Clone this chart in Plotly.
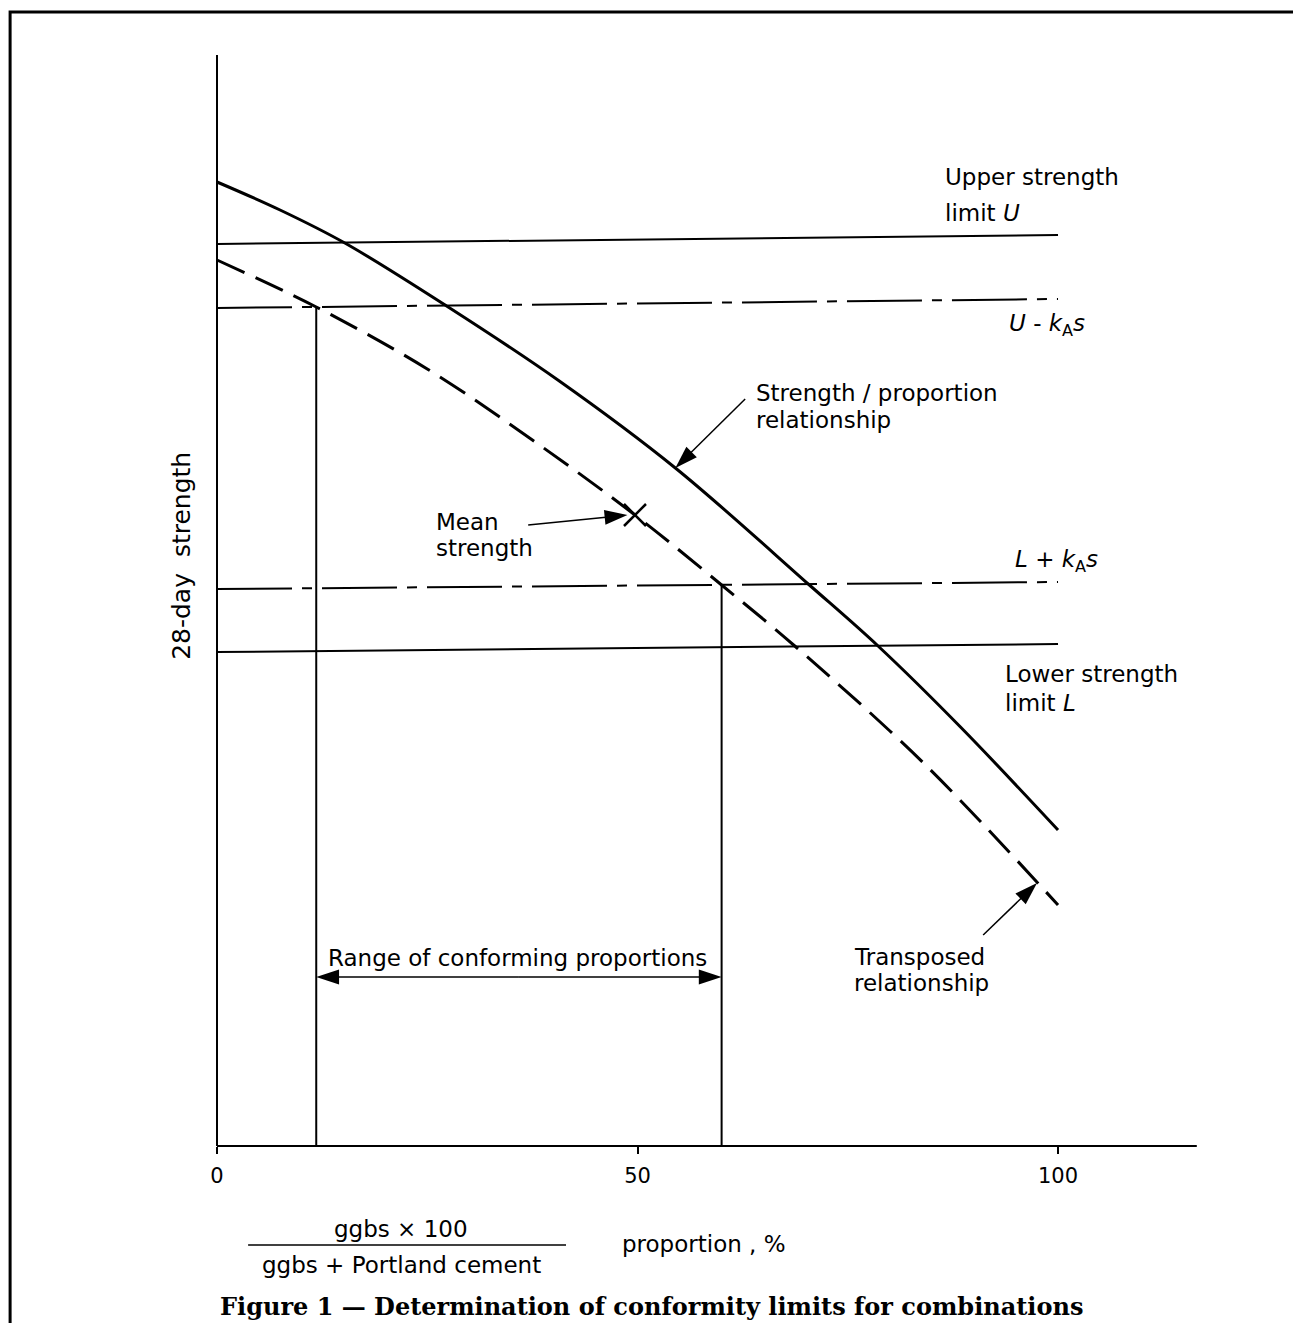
import plotly.graph_objects as go

# ---------------- data (x: ggbs proportion %, y: 28-day strength, arbitrary units) -------------
prop_solid = [0, 7.5, 15.2, 27.3, 40.7, 54.5, 70.3, 78.6, 88.4, 100]
strength_solid = [96.4, 93.6, 90.3, 84.0, 76.5, 67.8, 56.2, 50.0, 41.9, 31.6]

prop_transposed = [0, 11.8, 25.0, 37.5, 49.7, 60.0, 68.7, 84.0, 100]
strength_transposed = [88.6, 83.9, 77.7, 70.6, 63.1, 56.1, 50.0, 38.3, 24.1]

limit_x = [0, 100]
upper_U = [90.2, 91.1]
upper_U_minus_kas = [83.8, 84.7]
lower_L_plus_kas = [55.7, 56.4]
lower_L = [49.4, 50.2]

conform_prop = [11.8, 60.0]
conform_top = [83.9, 56.1]
range_arrow_y = 16.9

mean_prop = [49.7]
mean_strength = [63.1]

x_ticks = [0, 50, 100]
x_tick_labels = ["0", "50", "100"]

axis_x_end = 116.5
axis_y_end = 109.1

# the page body has an 8px margin; the figure fills the rest of the window
X_RANGE = [-24.85, 128.89]
Y_RANGE = [-17.7, 113.8]

BLACK = "#000000"
FONT = "DejaVu Sans"
FS = 23

fig = go.Figure()


def line_trace(x, y, width=2, dash=None, shape="linear"):
    ln = dict(color=BLACK, width=width, shape=shape)
    if dash:
        ln["dash"] = dash
    return go.Scatter(x=x, y=y, mode="lines", line=ln, hoverinfo="skip")


def arrow_trace(x0, y0, x1, y1, size=24):
    return go.Scatter(
        x=[x0, x1], y=[y0, y1], mode="lines+markers",
        line=dict(color=BLACK, width=1.5),
        marker=dict(symbol="arrow", size=[0, size], angleref="previous",
                    color=BLACK, opacity=1, line=dict(width=0, color=BLACK)),
        hoverinfo="skip")


# axes
fig.add_trace(line_trace([0, 0], [0, axis_y_end], width=2))
fig.add_trace(line_trace([0, axis_x_end], [0, 0], width=2))

# limit lines
fig.add_trace(line_trace(limit_x, upper_U, width=2))
fig.add_trace(line_trace(limit_x, lower_L, width=2))
fig.add_trace(line_trace(limit_x, upper_U_minus_kas, width=2, dash="75px,10px,10px,10px"))
fig.add_trace(line_trace(limit_x, lower_L_plus_kas, width=2, dash="75px,10px,10px,10px"))

# curves
fig.add_trace(line_trace(prop_solid, strength_solid, width=3, shape="spline"))
fig.add_trace(line_trace(prop_transposed, strength_transposed, width=3, dash="30px,12px", shape="spline"))

# conforming range verticals
for xp, top in zip(conform_prop, conform_top):
    fig.add_trace(line_trace([xp, xp], [0, top], width=2))

# range double arrow
mid = (conform_prop[0] + conform_prop[1]) / 2
fig.add_trace(arrow_trace(mid, range_arrow_y, conform_prop[0], range_arrow_y))
fig.add_trace(arrow_trace(mid, range_arrow_y, conform_prop[1], range_arrow_y))

# mean point
fig.add_trace(go.Scatter(x=mean_prop, y=mean_strength, mode="markers",
                         marker=dict(symbol="x-thin", size=22, color=BLACK,
                                     line=dict(color=BLACK, width=2.5)),
                         hoverinfo="skip"))

# leader arrows
fig.add_trace(arrow_trace(37.0, 62.1, 48.8, 63.1))
fig.add_trace(arrow_trace(62.8, 74.7, 54.5, 67.8))
fig.add_trace(arrow_trace(91.1, 21.1, 97.5, 26.3))


def txt(x, y, text, anchor="left", size=FS, font=FONT, angle=0, color=BLACK):
    return dict(x=x, y=y, xref="x", yref="y", text=text, showarrow=False,
                xanchor=anchor, yanchor="middle", textangle=angle,
                font=dict(family=font, size=size, color=color))


ann = [
    txt(86.3, 96.9, "Upper strength"),
    txt(86.3, 93.3, "limit <i>U</i>"),
    txt(93.9, 82.1, "<i>U</i> - <i>k</i><sub>A</sub><i>s</i>"),
    txt(63.9, 75.3, "Strength / proportion"),
    txt(63.9, 72.6, "relationship"),
    txt(25.8, 62.4, "Mean"),
    txt(25.8, 59.8, "strength"),
    txt(94.6, 58.5, "<i>L</i> + <i>k</i><sub>A</sub><i>s</i>"),
    txt(93.4, 47.2, "Lower strength"),
    txt(93.4, 44.3, "limit <i>L</i>"),
    txt(35.7, 18.8, "Range of conforming proportions", anchor="center"),
    txt(75.5, 18.9, "Transposed"),
    txt(75.5, 16.3, "relationship"),
    txt(-4.3, 59.0, "28-day  strength", anchor="center", angle=-90, size=25),
    txt(21.9, -8.3, "ggbs × 100", anchor="center"),
    txt(21.9, -11.9, "ggbs + Portland cement", anchor="center"),
    txt(47.9, -9.8, "proportion , %"),
    dict(x=0.1, y=-16.0, xref="x", yref="y", showarrow=False, xanchor="left", yanchor="middle",
         text="<b>Figure 1 — Determination of conformity limits for combinations</b>",
         font=dict(family="DejaVu Serif", size=24, color=BLACK)),
]

shapes = [
    dict(type="path", xref="x", yref="y",
         path="M -24.6,-30 L -24.6,113.4 L 140,113.4",
         line=dict(color=BLACK, width=3)),
    dict(type="line", xref="x", yref="y", x0=3.7, x1=41.5, y0=-9.9, y1=-9.9,
         line=dict(color=BLACK, width=1.5)),
]

axis_pos = (0 - Y_RANGE[0]) / (Y_RANGE[1] - Y_RANGE[0])

fig.update_layout(
    width=1293, height=1315,
    margin=dict(l=0, r=0, t=0, b=0),
    paper_bgcolor="white", plot_bgcolor="white",
    showlegend=False,
    annotations=ann,
    shapes=shapes,
    xaxis=dict(range=X_RANGE, anchor="free", position=axis_pos,
               tickvals=x_ticks, ticktext=x_tick_labels,
               ticks="outside", ticklen=7, tickwidth=2, tickcolor=BLACK,
               tickfont=dict(family=FONT, size=21, color=BLACK),
               ticklabelstandoff=4,
               showline=False, showgrid=False, zeroline=False, fixedrange=True),
    yaxis=dict(range=Y_RANGE, visible=False, showgrid=False, zeroline=False, fixedrange=True),
)

fig.write_html("out.html")
